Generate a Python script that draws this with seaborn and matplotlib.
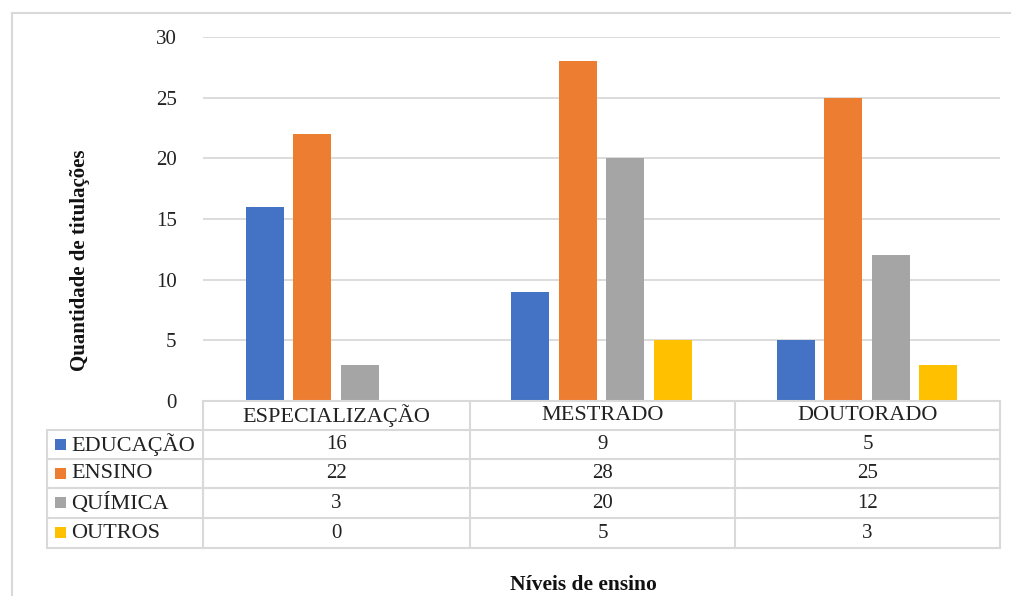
import matplotlib
matplotlib.use("Agg")
import matplotlib.pyplot as plt
from matplotlib.lines import Line2D
from matplotlib.patches import Rectangle
import seaborn as sns
import pandas as pd

# Chart data
niveis = ["ESPECIALIZAÇÃO", "MESTRADO", "DOUTORADO"]
areas = ["EDUCAÇÃO", "ENSINO", "QUÍMICA", "OUTROS"]
educacao = [16, 9, 5]
ensino = [22, 28, 25]
quimica = [3, 20, 12]
outros = [0, 5, 3]
yticks = [0, 5, 10, 15, 20, 25, 30]

cores = ["#4472C4", "#ED7D31", "#A5A5A5", "#FFC000"]
grid_cor = "#D9D9D9"
texto_cor = "#222222"
serie = {"EDUCAÇÃO": educacao, "ENSINO": ensino, "QUÍMICA": quimica, "OUTROS": outros}

df = pd.DataFrame(
    [(n, a, serie[a][i]) for a in areas for i, n in enumerate(niveis)],
    columns=["nivel", "area", "valor"],
)

sns.set_theme(style="white")
plt.rcParams["font.family"] = ["Liberation Serif", "DejaVu Serif"]

W, H = 1011, 596
fig = plt.figure(figsize=(W / 100, H / 100), dpi=100)

def fx(px):
    return px / W

def fy(py):
    return 1 - py / H

left, right, top, bottom = 203, 1000, 37, 401
ax = fig.add_axes([fx(left), fy(bottom), fx(right - left), (bottom - top) / H])

sns.barplot(
    data=df, x="nivel", y="valor", hue="area", order=niveis, hue_order=areas,
    palette=cores, width=0.714, gap=0.2, saturation=1, legend=False, ax=ax,
    edgecolor="none",
)
ax.set_ylim(0, 30)
ax.set_xlim(-0.5, len(niveis) - 0.5)
ax.set_yticks(yticks)
ax.set_yticklabels([str(t) for t in yticks], fontsize=15, color=texto_cor)
ax.set_xticks([])
ax.set_xlabel("")
ax.set_ylabel("")
ax.tick_params(axis="y", length=0, pad=19)
ax.grid(axis="y", color=grid_cor, linewidth=1.3)
ax.set_axisbelow(True)
for s in ["left", "right", "top", "bottom"]:
    ax.spines[s].set_visible(False)

# Data table beneath the plot
col_edges = [203, 470, 735, 1000]
row_edges = [401, 430, 459, 488, 518, 548]
tab_left = 47
lw = 1.5

def hline(x0, x1, y):
    fig.add_artist(Line2D([fx(x0), fx(x1)], [fy(y), fy(y)], color=grid_cor, lw=lw))

def vline(x, y0, y1):
    fig.add_artist(Line2D([fx(x), fx(x)], [fy(y0), fy(y1)], color=grid_cor, lw=lw))

hline(col_edges[0], col_edges[-1], row_edges[0])
for y in row_edges[1:]:
    hline(tab_left, col_edges[-1], y)
for x in col_edges:
    vline(x, row_edges[0], row_edges[-1])
vline(tab_left, row_edges[1], row_edges[-1])

# Header row: level names
for i, nome in enumerate(niveis):
    cx = (col_edges[i] + col_edges[i + 1]) / 2
    cy = (row_edges[0] + row_edges[1]) / 2
    fig.text(fx(cx), fy(cy), nome, ha="center", va="center", fontsize=16, color=texto_cor)

# Value rows with colour keys
for r, area in enumerate(areas):
    cy = (row_edges[r + 1] + row_edges[r + 2]) / 2
    fig.add_artist(Rectangle((fx(55), fy(cy + 5)), fx(11), 11 / H,
                             facecolor=cores[r], edgecolor="none"))
    fig.text(fx(71), fy(cy), area, ha="left", va="center", fontsize=16, color=texto_cor)
    for i in range(len(niveis)):
        cx = (col_edges[i] + col_edges[i + 1]) / 2
        fig.text(fx(cx), fy(cy), str(serie[area][i]), ha="center", va="center",
                 fontsize=15, color=texto_cor)

# Axis titles
fig.text(fx(80), fy(260), "Quantidade de titulações", rotation=90, ha="center",
         va="center", fontsize=15, fontweight="bold", color="#111111")
fig.text(fx(583), fy(585), "Níveis de ensino", ha="center", va="center",
         fontsize=15.5, fontweight="bold", color="#111111")

# Chart frame
fig.add_artist(Line2D([fx(12), fx(12)], [fy(13), 0], color=grid_cor, lw=1.5))
fig.add_artist(Line2D([fx(12), 1], [fy(13), fy(13)], color=grid_cor, lw=1.5))

fig.savefig("out.png", dpi=100)
